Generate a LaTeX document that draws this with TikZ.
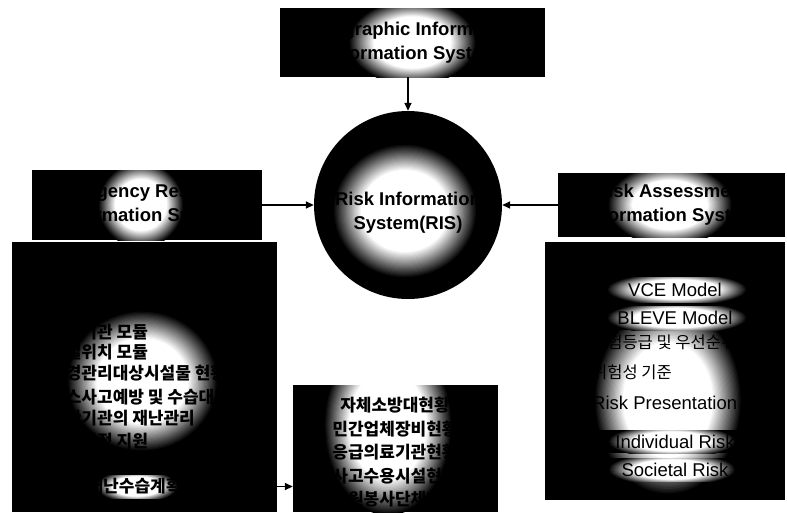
\documentclass[tikz,border=0pt]{standalone}
\usepackage{fontspec}
\setmainfont{Liberation Sans}
\newfontfamily\kr{Noto Sans CJK KR}
\usetikzlibrary{arrows.meta}
\tikzset{
  blk/.style={rectangle, fill=black, draw=none, inner sep=0pt, align=center},
  glow/.style n args={4}{path picture={
    \foreach \k in {0,...,24}{
      \pgfmathsetmacro\s{0.82-0.32*\k/24}
      \pgfmathsetmacro\c{100*\k/24}
      \fill[white!\c!black] ([shift={(#1,#2)}]path picture bounding box.center) ellipse [x radius=\s*#3pt, y radius=\s*#4pt];
    }}},
  head/.style={font=\fontsize{18.5}{24}\selectfont\bfseries},
  en/.style={font=\fontsize{18.5}{22}\selectfont},
  kb/.style={font=\kr\fontsize{17}{20}\selectfont\bfseries},
  kr/.style={font=\kr\fontsize{16.5}{20}\selectfont},
  ltxt/.style={kb, inner sep=0pt, anchor=west},
  rtxt/.style={inner sep=0pt, anchor=west},
  mtxt/.style={kb, inner sep=0pt},
  arr/.style={line width=1.6pt, -{Triangle[length=8pt,width=7pt]}}
}
\begin{document}
\begin{tikzpicture}[x=1pt,y=-1pt]
\useasboundingbox (0,0) rectangle (787,512);
% main boxes
\node[blk, minimum width=265pt, minimum height=69pt, glow={0}{0}{78}{52}, head] (gis) at (412.5,42.5) {Geographic Information\\Information System};
\node[circle, fill=black, inner sep=0pt, minimum size=188pt, glow={-3}{6}{88}{82}] (ris) at (408,205) {};
\node[head, align=center, inner sep=0pt] (ristxt) at (408,213) {Risk Information\\System(RIS)};
\node[blk, minimum width=230pt, minimum height=70pt, glow={-6}{0}{52}{52}, head] (erh) at (147,205) {Emergency Response\\Information System};
\node[blk, minimum width=265pt, minimum height=270pt, glow={-2}{4}{92}{86}] (erb) at (144.5,377) {};
\node[blk, minimum width=227pt, minimum height=64pt, glow={-1.5}{0}{76}{50}, head] (rah) at (671.5,205) {Risk Assessment\\Information System};
\node[blk, minimum width=240pt, minimum height=258pt, glow={3}{29}{90}{116}] (rab) at (665,371) {};
\node[blk, minimum width=205pt, minimum height=127pt, glow={-7.5}{-23.5}{78}{110}] (mid) at (395.5,448.5) {};
% left body text
\node[ltxt] (l1) at (50,332) {유관기관 모듈};
\node[ltxt] (l2) at (50,352) {시설위치 모듈};
\node[ltxt] (l3) at (50,373) {환경관리대상시설물 현황};
\node[ltxt] (l4) at (50,397) {가스사고예방 및 수습대책};
\node[ltxt] (l5) at (50,418) {유관기관의 재난관리};
\node[ltxt] (l6) at (50,441) {의사결정 지원};
\node[blk, minimum width=125pt, minimum height=23pt, glow={2.5}{0}{50}{20}, kb] (plan) at (134.5,486.5) {재난수습계획};
% middle box text
\node[mtxt] (m1) at (395,405) {자체소방대현황};
\node[mtxt] (m2) at (395,429) {민간업체장비현황};
\node[mtxt] (m3) at (395,452) {응급의료기관현황};
\node[mtxt] (m4) at (395,476) {사고수용시설현황};
\node[mtxt] (m5) at (395,499) {자원봉사단체현황};
% right body
\node[blk, minimum width=160pt, minimum height=25pt, glow={2}{0}{86}{20}, en] (vce) at (675,289.5) {VCE Model};
\node[blk, minimum width=160pt, minimum height=24pt, glow={2}{0}{86}{20}, en] (bleve) at (675,318) {BLEVE Model};
\node[rtxt, kr] (r1) at (592,342) {위험등급 및 우선순위};
\node[rtxt, kr] (r2) at (592,372) {위험성 기준};
\node[rtxt, en] (r3) at (592,403) {Risk Presentation};
\node[blk, minimum width=160pt, minimum height=23pt, glow={-3}{0}{78}{20}, en] (ind) at (675,441.5) {Individual Risk};
\node[blk, minimum width=160pt, minimum height=23pt, glow={-3}{0}{78}{20}, en] (soc) at (675,469.5) {Societal Risk};
% connectors
\draw[arr] (ris.north |- gis.south) -- (ris.north);
\draw[arr] (erh.east) -- (ris.west);
\draw[arr] (rah.west) -- (ris.east);
\draw[arr] (plan.east -| erb.east) -- (plan.east -| mid.west);
\end{tikzpicture}
\end{document}
